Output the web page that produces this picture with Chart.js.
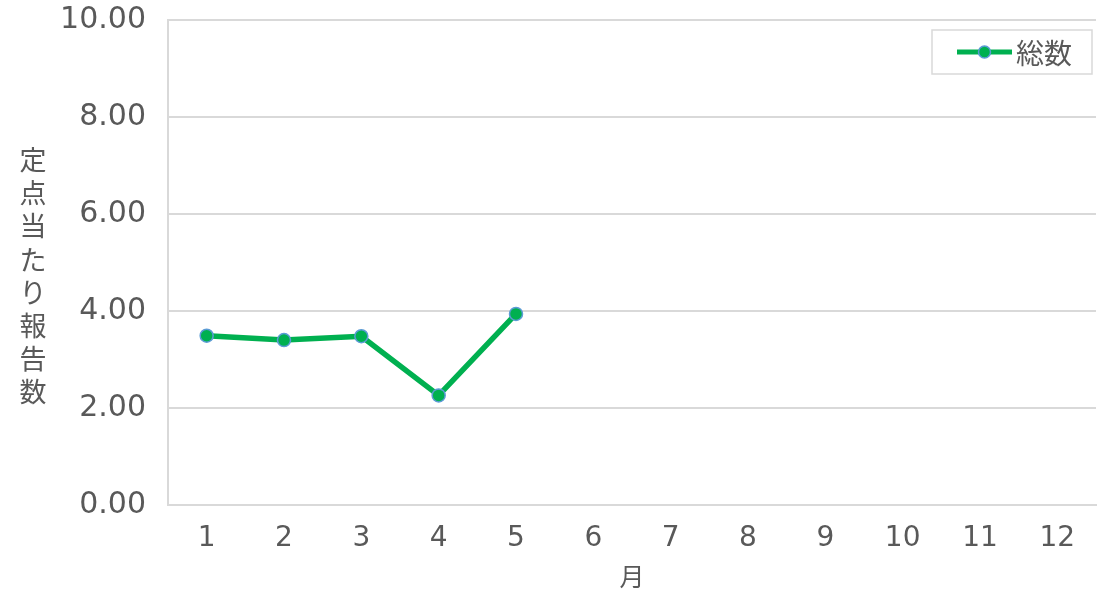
<!DOCTYPE html>
<html>
<head>
<meta charset="utf-8">
<script src="https://cdn.jsdelivr.net/npm/chart.js@4.4.1/dist/chart.umd.min.js"></script>
<style>
  html, body { margin: 0; padding: 0; background: #fff; }
  #wrap { width: 1104px; height: 600px; position: relative; }
</style>
</head>
<body>
<div id="wrap"><canvas id="grafic"></canvas></div>
<script>
// dades del grafic
const months = ['1', '2', '3', '4', '5', '6', '7', '8', '9', '10', '11', '12'];
const totals = [3.49, 3.40, 3.48, 2.26, 3.94, null, null, null, null, null, null, null];
const seriesName = '総数';
const yTitle = '定点当たり報告数';
const xTitle = '月';
const yMin = 0, yMax = 10, yStep = 2;

const GREEN = '#00B050';
const POINT_BORDER = '#5B9BD5';
const TEXT = '#595959';
const GRID = '#D9D9D9';
const NUMFONT = "'DejaVu Sans', sans-serif";
const FONT = "'Noto Sans CJK JP', 'Noto Sans', sans-serif";

// titol vertical de l'eix y i llegenda amb marc
const extras = {
  id: 'extras',
  afterDraw(chart) {
    const ctx = chart.ctx;
    ctx.save();
    ctx.fillStyle = TEXT;
    ctx.font = '27px ' + FONT;
    ctx.textAlign = 'center';
    ctx.textBaseline = 'middle';
    const chars = Array.from(yTitle);
    const step = 33.2;
    const mid = 276;
    chars.forEach((ch, i) => {
      ctx.fillText(ch, 33, mid + (i - (chars.length - 1) / 2) * step);
    });

    // llegenda
    const bx = 932, by = 30, bw = 160, bh = 44;
    ctx.strokeStyle = GRID;
    ctx.lineWidth = 1.5;
    ctx.strokeRect(bx, by, bw, bh);
    const cy = by + bh / 2;
    ctx.strokeStyle = GREEN;
    ctx.lineWidth = 5;
    ctx.beginPath();
    ctx.moveTo(957, cy);
    ctx.lineTo(1012, cy);
    ctx.stroke();
    ctx.beginPath();
    ctx.arc(984.5, cy, 6, 0, Math.PI * 2);
    ctx.fillStyle = GREEN;
    ctx.fill();
    ctx.lineWidth = 1.5;
    ctx.strokeStyle = POINT_BORDER;
    ctx.stroke();
    ctx.fillStyle = TEXT;
    ctx.font = '28px ' + FONT;
    ctx.textAlign = 'left';
    ctx.fillText(chart.data.datasets[0].label, 1016, cy + 1);
    ctx.restore();
  }
};

const ctx = document.getElementById('grafic').getContext('2d');
new Chart(ctx, {
  type: 'line',
  data: {
    labels: months,
    datasets: [{
      label: seriesName,
      data: totals,
      borderColor: GREEN,
      borderWidth: 5.5,
      backgroundColor: GREEN,
      pointBackgroundColor: GREEN,
      pointBorderColor: POINT_BORDER,
      pointBorderWidth: 1.5,
      pointRadius: 6.5,
      tension: 0
    }]
  },
  options: {
    responsive: true,
    maintainAspectRatio: false,
    animation: false,
    layout: { padding: { top: 0, right: 6, left: 0, bottom: 0 } },
    plugins: {
      legend: { display: false },
      tooltip: { enabled: false }
    },
    scales: {
      x: {
        offset: true,
        grid: { display: false, drawTicks: false },
        border: { display: true, color: GRID, width: 2 },
        ticks: { color: TEXT, font: { family: NUMFONT, size: 28 }, padding: 17 },
        title: { display: true, text: xTitle, color: TEXT, font: { family: FONT, size: 25 }, padding: { top: 0, bottom: 9 } },
        afterFit(scale) { scale.height = 95; }
      },
      y: {
        min: yMin,
        max: yMax,
        grid: { color: GRID, lineWidth: 2, drawTicks: false },
        border: { display: true, color: GRID, width: 2 },
        ticks: {
          stepSize: yStep,
          color: TEXT,
          font: { family: NUMFONT, size: 30 },
          padding: 22,
          callback: v => v.toFixed(2)
        },
        afterFit(scale) { scale.width = 168; scale.paddingTop = 20; }
      }
    }
  },
  plugins: [extras]
});
</script>
</body>
</html>
